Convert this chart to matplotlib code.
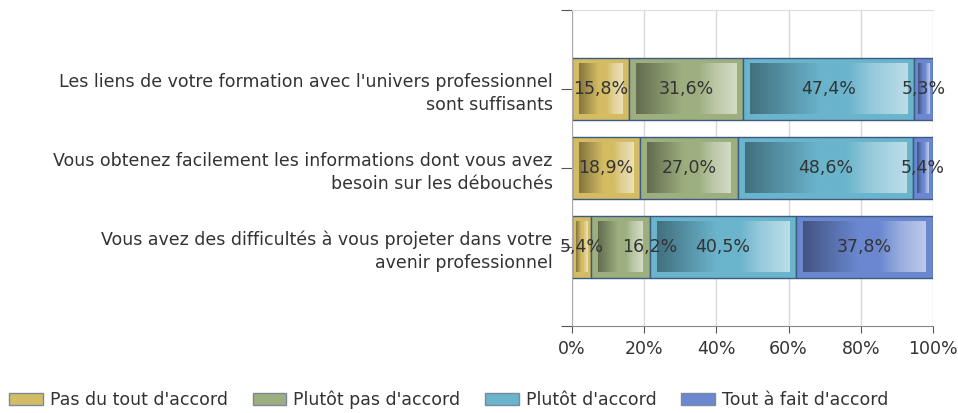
import numpy as np
import matplotlib
matplotlib.use("Agg")
import matplotlib.pyplot as plt
from matplotlib.patches import Rectangle, Patch
from matplotlib.colors import LinearSegmentedColormap, to_rgb

questions = [
    "Les liens de votre formation avec l'univers professionnel\nsont suffisants",
    "Vous obtenez facilement les informations dont vous avez\nbesoin sur les débouchés",
    "Vous avez des difficultés à vous projeter dans votre\navenir professionnel",
]
answers = ["Pas du tout d'accord", "Plutôt pas d'accord", "Plutôt d'accord", "Tout à fait d'accord"]
pas_du_tout = [15.8, 18.9, 5.4]
plutot_pas = [31.6, 27.0, 16.2]
plutot = [47.4, 48.6, 40.5]
tout_a_fait = [5.3, 5.4, 37.8]
colors = ["#D4BC64", "#9DAF7F", "#6AB4CC", "#6A87D0"]

series = [pas_du_tout, plutot_pas, plutot, tout_a_fait]

W, H = 958, 413
fig = plt.figure(figsize=(W / 100, H / 100), dpi=100)
ax = fig.add_axes([572 / W, (H - 326) / H, (933 - 572) / W, (326 - 10) / H])

FS = 12.5
TXT = "#333333"
bar_h = 0.79


def grad_cmap(c):
    c = np.array(to_rgb(c))
    dark = c * 0.62
    light = c + (1 - c) * 0.55
    mid_light = c + (1 - c) * 0.3
    return LinearSegmentedColormap.from_list(
        "g", [(0, dark), (0.45, c), (0.62, c), (0.78, mid_light), (1, light)])


grad = np.linspace(0, 1, 256).reshape(1, -1)
labels = [[] for _ in questions]
for j, vals in enumerate(series):
    cmap = grad_cmap(colors[j])
    for i, v in enumerate(vals):
        left = sum(series[k][i] for k in range(j))
        ax.add_patch(Rectangle((left, i - bar_h / 2), v, bar_h, facecolor=colors[j],
                               edgecolor="#3D5A80", lw=1, zorder=2))
        dx = min(1.9, v * 0.2)
        dy = 0.075
        ax.imshow(grad, cmap=cmap, aspect="auto", interpolation="bilinear",
                  extent=[left + dx, left + v - dx, i + bar_h / 2 - dy, i - bar_h / 2 + dy],
                  zorder=3)
        t = ax.text(left + v / 2, i, f"{v:.1f}%".replace(".", ","), ha="center", va="center",
                    fontsize=FS, color=TXT, zorder=4)
        labels[i].append(t)

ax.set_xlim(0, 100)
ax.set_ylim(3, -1)

# push a label right when it runs into the one before it
fig.canvas.draw()
rend = fig.canvas.get_renderer()
px_per_unit = ax.bbox.width / 100
for row in labels:
    prev_right = None
    for t in row:
        bb = t.get_window_extent(rend)
        if prev_right is not None and bb.x0 < prev_right + 18:
            shift = (prev_right + 18 - bb.x0) / px_per_unit
            x, y = t.get_position()
            t.set_position((x + shift, y))
            bb = t.get_window_extent(rend)
        prev_right = bb.x1

ax.set_xticks(np.arange(0, 101, 20))
ax.set_xticklabels([f"{t}%" for t in range(0, 101, 20)], fontsize=FS, color=TXT)
ax.set_yticks([-1, 0, 1, 2, 3])
ax.set_yticklabels([""] + questions + [""], fontsize=FS, color=TXT, ha="right",
                   multialignment="right", linespacing=1.35)
ax.tick_params(axis="y", length=8, color="#555555", pad=6)
ax.tick_params(axis="x", length=5, color="#555555", pad=5)
ax.grid(axis="x", color="#D9D9D9", lw=1, zorder=0)
ax.set_axisbelow(True)
ax.spines["top"].set_color("#DDDDDD")
ax.spines["right"].set_visible(False)
ax.spines["left"].set_color("#AAAAAA")
ax.spines["bottom"].set_color("#888888")

handles = [Patch(facecolor=c, edgecolor="#7A8A9A", label=a) for c, a in zip(colors, answers)]
fig.legend(handles=handles, loc="lower left", bbox_to_anchor=(-0.005, -0.025), ncol=4,
           frameon=False, fontsize=FS, handlelength=1.95, handleheight=0.7,
           handletextpad=0.4, columnspacing=1.42, labelcolor=TXT, borderpad=0.3)

fig.savefig("out.png", dpi=100)
